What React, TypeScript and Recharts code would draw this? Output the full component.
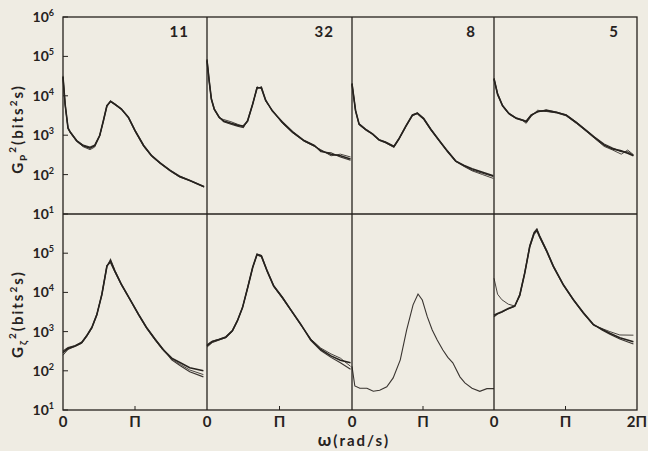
import { LineChart, Line, XAxis, YAxis } from "recharts";

// decades on the log axes
const TICKS_TOP = [10, 100, 1000, 10000, 100000, 1000000];
const TICKS_BOTTOM = [10, 100, 1000, 10000, 100000];
// omega ticks, in units of pi
const OMEGA_TICKS = [0, 1];
const OMEGA_TICKS_LAST = [0, 1, 2];
const PANEL_LABELS = ["11", "32", "8", "5"];

// ---- top row: Gp^2 (bits^2 s) ----
const X_P11 = [0, 0.03, 0.07, 0.1, 0.19, 0.28, 0.375, 0.44, 0.51, 0.56, 0.61, 0.66, 0.72, 0.81, 0.91, 1.0, 1.12, 1.23, 1.35, 1.49, 1.62, 1.76, 1.96];
const P11_A = [30000, 6000, 1500, 1200, 720, 540, 470, 540, 980, 2300, 5600, 7200, 6100, 4600, 2800, 1300, 540, 300, 195, 126, 89, 71, 49];
const P11_B = [28000, 5500, 1450, 1150, 700, 510, 430, 500, 950, 2400, 5800, 7000, 6000, 4500, 2700, 1250, 520, 290, 190, 122, 86, 70, 48];
const P11_C = [32000, 6200, 1550, 1220, 740, 560, 500, 560, 1000, 2200, 5400, 7400, 6200, 4700, 2900, 1350, 560, 310, 200, 130, 92, 72, 50];

const X_P32 = [0, 0.03, 0.06, 0.1, 0.17, 0.23, 0.33, 0.42, 0.5, 0.56, 0.63, 0.69, 0.75, 0.81, 0.9, 1.04, 1.18, 1.34, 1.48, 1.57, 1.71, 1.84, 1.98];
const P32_A = [80000, 24000, 8300, 4600, 2800, 2300, 2000, 1800, 1700, 2300, 6100, 16000, 16000, 7600, 4200, 2100, 1200, 720, 540, 400, 330, 300, 250];
const P32_B = [75000, 22000, 8000, 4400, 2700, 2500, 2200, 1900, 1600, 2200, 6000, 17000, 15000, 7200, 4300, 2000, 1150, 700, 520, 430, 300, 330, 280];
const P32_C = [85000, 25000, 8600, 4700, 2900, 2200, 1900, 1700, 1550, 2400, 6300, 15000, 17000, 7800, 4100, 2200, 1250, 740, 560, 380, 360, 280, 230];

const X_P8 = [0, 0.05, 0.1, 0.19, 0.29, 0.38, 0.47, 0.59, 0.66, 0.76, 0.85, 0.92, 1.01, 1.11, 1.23, 1.34, 1.46, 1.58, 1.69, 1.84, 1.99];
const P8_A = [20000, 4200, 1900, 1400, 1070, 760, 660, 510, 800, 1700, 3200, 3600, 2600, 1400, 720, 400, 220, 170, 140, 114, 94];
const P8_B = [19000, 4000, 1850, 1350, 1050, 740, 640, 490, 780, 1650, 3100, 3500, 2500, 1350, 700, 390, 215, 160, 125, 100, 80];
const P8_C = [21000, 4400, 1950, 1450, 1100, 780, 680, 530, 820, 1750, 3300, 3700, 2700, 1450, 740, 410, 225, 165, 130, 108, 90];

const X_P5 = [0, 0.05, 0.12, 0.21, 0.31, 0.4, 0.45, 0.52, 0.61, 0.73, 0.87, 1.01, 1.15, 1.29, 1.4, 1.54, 1.66, 1.78, 1.87, 1.95];
const P5_A = [27000, 11000, 5600, 3500, 2700, 2400, 2200, 3200, 4000, 4200, 3800, 3200, 2100, 1300, 890, 560, 450, 400, 350, 300];
const P5_B = [26000, 10500, 5400, 3400, 2650, 2350, 2000, 3000, 4300, 4000, 3700, 3100, 2000, 1250, 850, 520, 420, 330, 420, 320];
const P5_C = [28000, 11500, 5700, 3600, 2750, 2450, 2300, 3300, 3900, 4400, 3900, 3300, 2150, 1350, 920, 600, 470, 380, 380, 310];

// ---- bottom row: Gzeta^2 (bits^2 s) ----
const X_Z11 = [0, 0.07, 0.17, 0.26, 0.33, 0.4, 0.47, 0.54, 0.61, 0.66, 0.72, 0.81, 0.93, 1.05, 1.16, 1.28, 1.39, 1.51, 1.63, 1.76, 1.95];
const Z11_A = [290, 370, 430, 520, 780, 1260, 2700, 8900, 47000, 63000, 35000, 16000, 6600, 2700, 1260, 630, 350, 210, 160, 120, 100];
const Z11_B = [250, 350, 420, 500, 750, 1200, 2600, 9500, 50000, 56000, 33000, 15500, 6400, 2600, 1200, 600, 330, 200, 145, 105, 80];
const Z11_C = [320, 390, 440, 540, 800, 1300, 2800, 8500, 45000, 70000, 37000, 16500, 6800, 2800, 1300, 650, 360, 190, 135, 95, 70];

const X_Z32 = [0, 0.07, 0.17, 0.26, 0.35, 0.42, 0.49, 0.56, 0.63, 0.69, 0.75, 0.83, 0.92, 1.04, 1.15, 1.29, 1.43, 1.57, 1.71, 1.84, 1.98];
const Z32_A = [430, 550, 630, 720, 1050, 1900, 4100, 13000, 43000, 93000, 85000, 35000, 14500, 7400, 3700, 1550, 630, 350, 240, 185, 160];
const Z32_B = [400, 520, 610, 700, 1000, 1850, 4000, 12500, 42000, 90000, 80000, 34000, 14000, 7000, 3600, 1500, 650, 380, 270, 210, 130];
const Z32_C = [460, 570, 650, 740, 1080, 1950, 4200, 13500, 45000, 96000, 88000, 36000, 15000, 7600, 3800, 1600, 600, 330, 220, 160, 110];

const X_Z8 = [0, 0.04, 0.11, 0.21, 0.3, 0.39, 0.49, 0.58, 0.68, 0.77, 0.86, 0.93, 0.99, 1.06, 1.13, 1.2, 1.28, 1.35, 1.42, 1.52, 1.59, 1.69, 1.8, 1.9, 2.0];
const Z8_A = [130, 41, 36, 36, 30, 32, 39, 66, 190, 1100, 4800, 9100, 6400, 2400, 1100, 610, 340, 220, 160, 70, 49, 36, 30, 35, 35];

const X_Z5 = [0, 0.05, 0.11, 0.2, 0.29, 0.36, 0.43, 0.5, 0.56, 0.6, 0.64, 0.74, 0.83, 0.97, 1.11, 1.25, 1.39, 1.51, 1.62, 1.76, 1.95];
const Z5_A = [2600, 2900, 3200, 3900, 4500, 8500, 31000, 148000, 320000, 390000, 260000, 110000, 46000, 15500, 6500, 3000, 1500, 1150, 910, 700, 550];
const Z5_B = [23000, 9000, 6500, 5000, 4500, 8000, 30000, 140000, 300000, 360000, 250000, 105000, 44000, 15000, 6300, 2900, 1450, 1200, 1000, 820, 810];
const Z5_C = [2400, 2800, 3100, 3800, 4400, 8800, 33000, 155000, 340000, 420000, 280000, 115000, 48000, 16000, 6700, 3100, 1550, 1100, 860, 650, 480];

const PANELS = [
  { row: 0, col: 0, xs: X_P11, series: [P11_B, P11_C, P11_A] },
  { row: 0, col: 1, xs: X_P32, series: [P32_B, P32_C, P32_A] },
  { row: 0, col: 2, xs: X_P8, series: [P8_B, P8_C, P8_A] },
  { row: 0, col: 3, xs: X_P5, series: [P5_B, P5_C, P5_A] },
  { row: 1, col: 0, xs: X_Z11, series: [Z11_B, Z11_C, Z11_A] },
  { row: 1, col: 1, xs: X_Z32, series: [Z32_B, Z32_C, Z32_A] },
  { row: 1, col: 2, xs: X_Z8, series: [Z8_A] },
  { row: 1, col: 3, xs: X_Z5, series: [Z5_B, Z5_C, Z5_A] },
];

const COL_EDGES = [63, 207, 352, 494, 637];
const ROW_EDGES = [17, 214, 410];
const INK = "#26221e";
const BG = "#efece3";
const FONT = "Lato, 'Open Sans', sans-serif";
const LINE_STYLES = [
  { stroke: "#4a4540", width: 1.0 },
  { stroke: "#3a3531", width: 1.1 },
  { stroke: INK, width: 1.6 },
];

const DecadeTick = (props: any) => {
  const { x, y, payload } = props;
  const exp = Math.round(Math.log10(payload.value));
  return (
    <g>
      <line x1={x} y1={y} x2={x + 5} y2={y} stroke={INK} strokeWidth={1} />
      <text x={x - 9} y={y + 5} textAnchor="end" fill={INK} fontFamily={FONT} fontWeight={700} fontSize={14}>
        10
        <tspan dy={-6} fontSize={9}>{exp}</tspan>
      </text>
    </g>
  );
};

const OmegaTick = (props: any) => {
  const { x, y, payload } = props;
  const v = payload.value;
  const label = v === 0 ? "0" : v === 1 ? "Π" : "2Π";
  return (
    <g>
      {v === 1 && <line x1={x} y1={y} x2={x} y2={y - 4} stroke={INK} strokeWidth={1} />}
      <text x={x} y={y + 17} textAnchor="middle" fill={INK} fontFamily={FONT} fontWeight={700} fontSize={15}>
        {label}
      </text>
    </g>
  );
};

function Panel({ row, col, xs, series }: { row: number; col: number; xs: number[]; series: number[][] }) {
  const plotW = COL_EDGES[col + 1] - COL_EDGES[col];
  const plotH = ROW_EDGES[row + 1] - ROW_EDGES[row];
  const yAxisW = col === 0 ? 63 : 0;
  const xAxisH = row === 1 ? 34 : 0;
  const data = xs.map((x, i) => {
    const d: any = { x };
    series.forEach((s, k) => (d["s" + k] = s[i]));
    return d;
  });
  const styles = series.length === 1 ? [{ stroke: "#3a3531", width: 1.1 }] : LINE_STYLES;
  return (
    <div style={{ position: "absolute", left: col === 0 ? 0 : COL_EDGES[col], top: ROW_EDGES[row] }}>
      <LineChart width={plotW + yAxisW} height={plotH + xAxisH} data={data} margin={{ top: 0, right: 0, bottom: 0, left: 0 }}>
        <XAxis
          type="number"
          dataKey="x"
          domain={[0, 2]}
          hide={row === 0}
          height={xAxisH}
          ticks={col === 3 ? OMEGA_TICKS_LAST : OMEGA_TICKS}
          interval={0}
          axisLine={false}
          tickLine={false}
          tickSize={0}
          tickMargin={0}
          tick={<OmegaTick />}
        />
        <YAxis
          type="number"
          scale="log"
          domain={[10, 1000000]}
          hide={col !== 0}
          width={63}
          ticks={row === 0 ? TICKS_TOP : TICKS_BOTTOM}
          interval={0}
          axisLine={false}
          tickLine={false}
          tickSize={0}
          tickMargin={0}
          tick={<DecadeTick />}
        />
        {series.map((_, k) => (
          <Line
            key={k}
            type="linear"
            dataKey={"s" + k}
            stroke={styles[k].stroke}
            strokeWidth={styles[k].width}
            dot={false}
            isAnimationActive={false}
          />
        ))}
      </LineChart>
    </div>
  );
}

export default function App() {
  const [l, , , , r] = COL_EDGES;
  const [t, m, b] = ROW_EDGES;
  return (
    <div style={{ position: "relative", width: 648, height: 451, background: BG, overflow: "hidden" }}>
      <style>{`body{margin:0;background:${BG}}.recharts-surface{overflow:visible}`}</style>
      {PANELS.map((p, i) => (
        <Panel key={i} {...p} />
      ))}
      <svg width={648} height={451} style={{ position: "absolute", left: 0, top: 0, pointerEvents: "none" }}>
        <g stroke={INK} strokeWidth={1.3} fill="none">
          <rect x={l} y={t} width={r - l} height={b - t} />
          <line x1={l} y1={m} x2={r} y2={m} />
          {COL_EDGES.slice(1, 4).map((x) => (
            <line key={x} x1={x} y1={t} x2={x} y2={b} />
          ))}
        </g>
        <g fill={INK} fontFamily={FONT} fontWeight={700} fontSize={15}>
          {PANEL_LABELS.map((s, i) => (
            <text key={s} x={COL_EDGES[i + 1] - 18} y={37} textAnchor="end" letterSpacing={1}>
              {s}
            </text>
          ))}
          <text transform="translate(23,129) rotate(-90)" textAnchor="middle" letterSpacing={2}>
            G<tspan fontSize={10} dy={4}>P</tspan>
            <tspan fontSize={10} dy={-11}>2</tspan>
            <tspan dy={7}>(bits</tspan>
            <tspan fontSize={10} dy={-6}>2</tspan>
            <tspan dy={6}>s)</tspan>
          </text>
          <text transform="translate(23,314) rotate(-90)" textAnchor="middle" letterSpacing={2}>
            G<tspan fontSize={10} dy={4}>ζ</tspan>
            <tspan fontSize={10} dy={-11}>2</tspan>
            <tspan dy={7}>(bits</tspan>
            <tspan fontSize={10} dy={-6}>2</tspan>
            <tspan dy={6}>s)</tspan>
          </text>
          <text x={354} y={446} textAnchor="middle" letterSpacing={2}>
            <tspan fontSize={17}>ω</tspan>(rad/s)
          </text>
        </g>
      </svg>
    </div>
  );
}
